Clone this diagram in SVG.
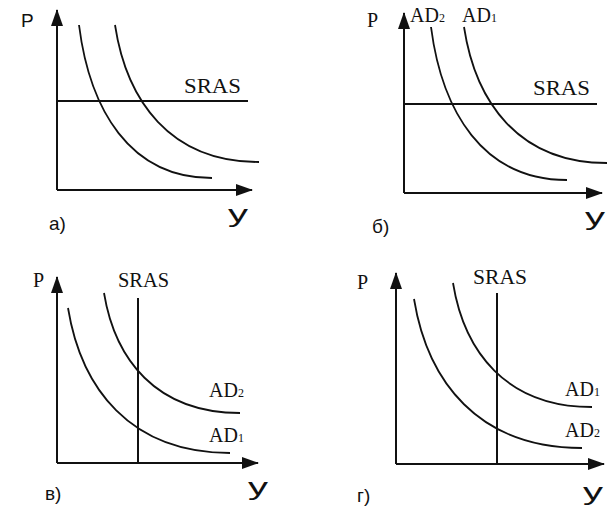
<svg xmlns="http://www.w3.org/2000/svg" width="615" height="514" viewBox="0 0 615 514">
<style>
.ax{fill:none;stroke:#111;stroke-width:2;marker-end:url(#arr)}
.ln{fill:none;stroke:#111;stroke-width:2}
.cv{fill:none;stroke:#111;stroke-width:1.8}
.serif{font-family:"Liberation Serif","Times New Roman",serif;fill:#111;font-size:20px}
.sans{font-family:"Liberation Sans",Arial,sans-serif;fill:#111}
.sub{font-size:12px}
</style>
<defs>
<marker id="arr" markerUnits="userSpaceOnUse" markerWidth="18" markerHeight="12" refX="16" refY="6" orient="auto">
<path d="M0,0 L17,6 L0,12 z" fill="#111"/>
</marker>
</defs>
<rect width="615" height="514" fill="#fff"/>
<g id="panel-a">
<path class="ax" d="M57,190 V10"/>
<path class="ax" d="M57,190 H252"/>
<path class="ln" d="M57,101 H248"/>
<path class="cv" d="M79,25 C89.6,109.2 129.5,178 212,178"/>
<path class="cv" d="M115,25 C126.5,100.4 169.7,162 259,162"/>
<text class="sans" x="21" y="27" font-size="19">P</text>
<text class="serif" x="184" y="93" textLength="57" lengthAdjust="spacingAndGlyphs">SRAS</text>
<text class="sans" x="228" y="222" font-size="24" textLength="20" lengthAdjust="spacingAndGlyphs">у</text>
<text class="sans" x="49" y="230" font-size="19">а)</text>
</g>
<g id="panel-b">
<path class="ax" d="M404,193 V13"/>
<path class="ax" d="M404,193 H602"/>
<path class="ln" d="M404,104 H597"/>
<path class="cv" d="M431,27 C441.9,111.2 482.7,180 567,180"/>
<path class="cv" d="M464,27 C475.4,101.8 518.3,163 607,163"/>
<text class="serif" x="367" y="27">P</text>
<text class="serif" x="410" y="22">AD<tspan class="sub">2</tspan></text>
<text class="serif" x="462" y="22">AD<tspan class="sub">1</tspan></text>
<text class="serif" x="533" y="95" textLength="57" lengthAdjust="spacingAndGlyphs">SRAS</text>
<text class="sans" x="585" y="225" font-size="24" textLength="20" lengthAdjust="spacingAndGlyphs">у</text>
<text class="sans" x="372" y="233" font-size="19">б)</text>
</g>
<g id="panel-v">
<path class="ax" d="M57,463 V277"/>
<path class="ax" d="M57,463 H258"/>
<path class="ln" d="M138,298 V463"/>
<path class="cv" d="M68,308 C81,387.8 129.6,453 230,453"/>
<path class="cv" d="M104,293 C114.9,359 155.7,413 240,413"/>
<text class="serif" x="33" y="287">P</text>
<text class="serif" x="118" y="287" textLength="51" lengthAdjust="spacingAndGlyphs">SRAS</text>
<text class="serif" x="209" y="397">AD<tspan class="sub">2</tspan></text>
<text class="serif" x="209" y="442">AD<tspan class="sub">1</tspan></text>
<text class="sans" x="248" y="495" font-size="24" textLength="20" lengthAdjust="spacingAndGlyphs">у</text>
<text class="sans" x="45" y="500" font-size="19">в)</text>
</g>
<g id="panel-g">
<path class="ax" d="M396,464 V273"/>
<path class="ax" d="M396,464 H604"/>
<path class="ln" d="M497,293 V464"/>
<path class="cv" d="M453,283 C464.1,351.2 505.8,407 592,407"/>
<path class="cv" d="M414,299 C427.4,381 477.8,448 582,448"/>
<text class="serif" x="357" y="289">P</text>
<text class="serif" x="473" y="284" textLength="54" lengthAdjust="spacingAndGlyphs">SRAS</text>
<text class="serif" x="565" y="396">AD<tspan class="sub">1</tspan></text>
<text class="serif" x="565" y="437">AD<tspan class="sub">2</tspan></text>
<text class="sans" x="583" y="500" font-size="24" textLength="20" lengthAdjust="spacingAndGlyphs">у</text>
<text class="sans" x="357" y="502" font-size="19">г)</text>
</g>
</svg>
